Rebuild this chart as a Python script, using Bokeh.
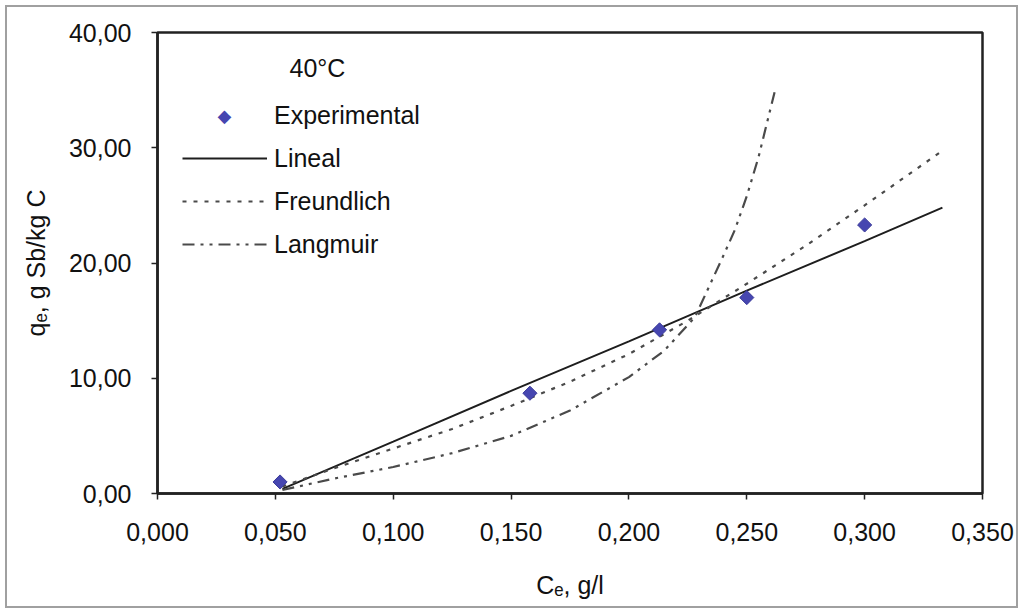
import math
from bokeh.plotting import figure
from bokeh.models import FixedTicker, CustomJSTickFormatter, Legend, LegendItem, Label
from bokeh.embed import file_html
from bokeh.resources import INLINE

# ---- data ----
ce_exp = [0.052, 0.158, 0.213, 0.250, 0.300]
qe_exp = [1.0, 8.7, 14.2, 17.0, 23.3]

ce_lin = [0.053, 0.100, 0.150, 0.200, 0.250, 0.300, 0.333]
qe_lin = [0.4, 4.5, 8.9, 13.2, 17.6, 21.9, 24.8]

ce_fre = [0.053, 0.075, 0.100, 0.125, 0.150, 0.175, 0.200, 0.225, 0.250, 0.275, 0.300, 0.332]
qe_fre = [0.6, 2.2, 3.9, 5.6, 7.6, 9.7, 12.1, 15.0, 18.2, 21.5, 25.0, 29.6]

ce_lan = [0.053, 0.075, 0.100, 0.125, 0.150, 0.175, 0.200, 0.215, 0.228, 0.235, 0.240, 0.245, 0.250, 0.255, 0.262]
qe_lan = [0.3, 1.3, 2.3, 3.5, 5.0, 7.2, 10.1, 12.4, 15.3, 18.4, 20.6, 22.9, 25.8, 29.2, 35.0]

x_ticks = [0.0, 0.05, 0.10, 0.15, 0.20, 0.25, 0.30, 0.35]
y_ticks = [0, 10, 20, 30, 40]

FONT = "Liberation Sans"
MARKER_COLOR = "#4646b0"

p = figure(width=1007, height=597, x_range=(0, 0.35), y_range=(0, 40),
           output_backend="svg", toolbar_location=None,
           min_border_left=149, min_border_right=33, min_border_top=24, min_border_bottom=112)
p.margin = (8, 0, 0, 8)
p.styles = {"outline": "2px solid #a0a0a0", "outline-offset": "1px"}
p.background_fill_color = "white"
p.border_fill_color = "white"
p.xgrid.visible = False
p.ygrid.visible = False
p.outline_line_color = "#222222"
p.outline_line_width = 2.5

for ax in (p.xaxis[0], p.yaxis[0]):
    ax.axis_line_color = "#222222"
    ax.axis_line_width = 2.5
    ax.major_tick_line_color = "#222222"
    ax.major_tick_line_width = 1.5
    ax.major_tick_in = 0
    ax.major_tick_out = 6
    ax.minor_tick_line_color = None
    ax.major_label_text_font = FONT
    ax.major_label_text_font_size = "25px"
    ax.major_label_text_color = "#111111"
    ax.axis_label_text_font = FONT
    ax.axis_label_text_font_size = "25px"
    ax.axis_label_text_font_style = "normal"
    ax.axis_label_text_color = "#111111"

p.xaxis.ticker = FixedTicker(ticks=x_ticks)
p.yaxis.ticker = FixedTicker(ticks=y_ticks)
p.xaxis.formatter = CustomJSTickFormatter(code="return tick.toFixed(3).replace('.', ',');")
p.yaxis.formatter = CustomJSTickFormatter(code="return tick.toFixed(2).replace('.', ',');")
p.xaxis.major_label_standoff = 23
p.yaxis.major_label_standoff = 20
p.xaxis.axis_label = "Cₑ, g/l"
p.yaxis.axis_label = "qₑ, g Sb/kg C"
p.xaxis.axis_label_standoff = 27
p.yaxis.axis_label_standoff = 16

r_lin = p.line(ce_lin, qe_lin, line_color="#1e1e1e", line_width=2)
r_fre = p.line(ce_fre, qe_fre, line_color="#4a4a4a", line_width=2.2, line_dash="4 7")
r_lan = p.line(ce_lan, qe_lan, line_color="#4a4a4a", line_width=2.2, line_dash="12 6 3 6 3 6")
r_exp = p.scatter(ce_exp, qe_exp, marker="square", angle=math.pi / 4, size=10,
                  fill_color=MARKER_COLOR, line_color="#3a3a9a", line_width=1)

legend = Legend(items=[
    LegendItem(label="Experimental", renderers=[]),
    LegendItem(label="Lineal", renderers=[r_lin]),
    LegendItem(label="Freundlich", renderers=[r_fre]),
    LegendItem(label="Langmuir", renderers=[r_lan]),
], location=(25, 229))
legend.border_line_color = None
legend.background_fill_alpha = 0
legend.glyph_width = 85
legend.glyph_height = 40
legend.label_height = 40
legend.label_standoff = 7
legend.spacing = 3
legend.padding = 0
legend.margin = 0
legend.label_text_font = FONT
legend.label_text_font_size = "25px"
legend.label_text_color = "#111111"
p.add_layout(legend)

# legend key for the experimental points (a diamond, as in the reference)
p.add_layout(Label(x=0.0284, y=32.8, text="◆", text_font="DejaVu Sans", text_font_size="18px",
                   text_color=MARKER_COLOR, text_baseline="middle", text_align="center"))

p.add_layout(Label(x=0.056, y=36.9, text="40°C", text_font=FONT, text_font_size="25px",
                   text_color="#111111", text_baseline="middle", text_align="left"))

open("out.html", "w").write(file_html(p, INLINE))
